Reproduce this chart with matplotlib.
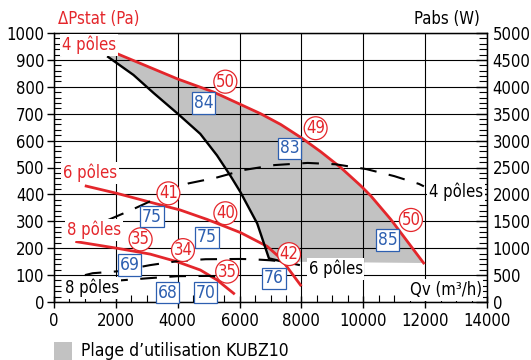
import matplotlib
matplotlib.use("Agg")
import matplotlib.pyplot as plt
import matplotlib.font_manager as fm
from matplotlib.ticker import MultipleLocator
from matplotlib.patches import Rectangle

# pick a narrow sans face if one is installed
narrow = None
for f in fm.fontManager.ttflist:
    fn = f.fname.lower()
    if ('condensed' in fn or 'narrow' in fn) and 'bold' not in fn and 'italic' not in fn \
            and 'oblique' not in fn and 'light' not in fn and 'semi' not in fn and 'extra' not in fn \
            and 'medium' not in fn and 'black' not in fn and 'thin' not in fn:
        narrow = f
        break

if narrow is not None:
    plt.rcParams['font.family'] = [narrow.name, 'DejaVu Sans']
    plt.rcParams['font.stretch'] = narrow.stretch
    fs = 12
else:
    plt.rcParams['font.family'] = ['DejaVu Sans']
    fs = 10

red = "#e4262b"
blue = "#2d5fb0"
gray = "#c2c2c2"

# static pressure curves (Pa) per motor speed
qv_4p = [1850, 2000, 4000, 5150, 6680, 7330, 8030, 8620, 9270, 9920, 10240, 10890, 11950]
dp_4p = [933, 925, 829, 781, 700, 660, 608, 559, 500, 432, 395, 307, 145]
qv_6p = [1040, 2030, 3440, 4080, 4950, 6030, 6890, 7330, 7970]
dp_6p = [431, 404, 361, 342, 307, 258, 207, 162, 63]
qv_8p = [735, 2030, 3110, 3975, 4730, 5270, 5810]
dp_8p = [224, 200, 178, 150, 119, 82, 32]

# left limit of the operating range
qv_lim = [1750, 2570, 3220, 4000, 4730, 5270, 5700, 6030, 6570, 6950, 7400]
dp_lim = [911, 844, 777, 700, 625, 545, 470, 408, 292, 162, 150]

# absorbed power (W)
qv_w4 = [1750, 2500, 3500, 4350, 5240, 6150, 7130, 8200, 9100, 10100, 11000, 11800, 11960]
pw_4 = [1525, 1710, 1975, 2205, 2310, 2455, 2545, 2585, 2560, 2470, 2340, 2195, 2150]
qv_w6 = [1000, 1250, 2050, 3100, 4000, 4900, 6000, 6400, 7000, 7400, 7950]
pw_6 = [500, 535, 570, 685, 760, 795, 800, 795, 775, 750, 685]
qv_w8 = [1850, 2000, 3000, 4000, 5000, 5300]
pw_8 = [385, 395, 440, 480, 485, 470]

# efficiency (circles) and sound level (boxes)
circ_txt = ["50", "49", "41", "40", "35", "34", "35", "42", "50"]
circ_x = [5540, 8460, 3700, 5540, 2800, 4170, 5600, 7600, 11540]
circ_y = [819, 646, 404, 330, 233, 193, 113, 178, 305]
box_txt = ["84", "83", "75", "75", "69", "68", "70", "76", "85"]
box_x = [4830, 7620, 3166, 4950, 2440, 3680, 4890, 7110, 10790]
box_y = [740, 571, 317, 240, 137, 35, 35, 88, 230]

fig = plt.figure(figsize=(5.31, 3.6), dpi=100)
ax = fig.add_axes([54/531, 1-302/360, 433/531, 269/360])
ax.set_xlim(0, 14000)
ax.set_ylim(0, 1000)

# operating range
ax.fill(qv_4p + qv_lim[::-1], dp_4p + dp_lim[::-1], color=gray, lw=0, zorder=1)

ax.plot(qv_4p, dp_4p, color=red, lw=2, zorder=3)
ax.plot(qv_6p, dp_6p, color=red, lw=2, zorder=3)
ax.plot(qv_8p, dp_8p, color=red, lw=2, zorder=3)
ax.plot(qv_lim, dp_lim, color="black", lw=1.7, zorder=3)

ax.xaxis.set_major_locator(MultipleLocator(2000))
ax.xaxis.set_minor_locator(MultipleLocator(500))
ax.yaxis.set_major_locator(MultipleLocator(100))
ax.yaxis.set_minor_locator(MultipleLocator(20))
ax.grid(which='major', color='black', lw=0.8, zorder=2)
ax.set_axisbelow(False)
ax.tick_params(axis='y', which='major', direction='out', length=5, width=1, labelsize=fs, pad=2)
ax.tick_params(axis='y', which='minor', direction='in', length=5, width=0.8)
ax.tick_params(axis='x', which='major', direction='inout', length=8, width=1, labelsize=fs, pad=3)
ax.tick_params(axis='x', which='minor', direction='in', length=5, width=0.8)
for s in ax.spines.values():
    s.set_linewidth(1)

ax2 = ax.twinx()
ax2.set_ylim(0, 5000)
ax2.yaxis.set_major_locator(MultipleLocator(500))
ax2.yaxis.set_minor_locator(MultipleLocator(100))
ax2.tick_params(axis='y', which='major', direction='in', length=8, width=1, labelsize=fs, pad=4)
ax2.tick_params(axis='y', which='minor', direction='in', length=6, width=0.8)

dash = (0, (8, 6))
ax2.plot(qv_w4, pw_4, color='black', lw=1.5, linestyle=dash, zorder=3)
ax2.plot(qv_w6, pw_6, color='black', lw=1.5, linestyle=dash, zorder=3)
ax2.plot(qv_w8, pw_8, color='black', lw=1.5, linestyle=dash, zorder=3)

tr = ax.transData
for t, x, y in zip(circ_txt, circ_x, circ_y):
    ax2.text(x, y, t, transform=tr, color=red, fontsize=fs, ha='center', va='center', zorder=5,
             bbox=dict(boxstyle='circle,pad=0.12', fc='white', ec=red, lw=0.9))
for t, x, y in zip(box_txt, box_x, box_y):
    ax2.text(x, y, t, transform=tr, color=blue, fontsize=fs + 0.5, ha='center', va='center', zorder=5,
             bbox=dict(boxstyle='square,pad=0.1', fc='white', ec=blue, lw=0.9))

wbox = dict(boxstyle='square,pad=0.1', fc='white', ec='none')
ax2.text(260, 955, "4 pôles", transform=tr, color=red, fontsize=fs, va='center', bbox=wbox, zorder=4)
ax2.text(290, 480, "6 pôles", transform=tr, color=red, fontsize=fs, va='center', bbox=wbox, zorder=4)
ax2.text(420, 268, "8 pôles", transform=tr, color=red, fontsize=fs, va='center', bbox=wbox, zorder=4)
ax2.text(357, 52, "8 pôles", transform=tr, color='black', fontsize=fs, va='center', bbox=wbox, zorder=4)
ax2.text(8230, 123, "6 pôles", transform=tr, color='black', fontsize=fs, va='center', bbox=wbox, zorder=4)
ax2.text(12120, 409, "4 pôles", transform=tr, color='black', fontsize=fs, va='center', bbox=wbox, zorder=4)

ax.text(0.009, 1.052, "ΔPstat (Pa)", transform=ax.transAxes, color=red, fontsize=fs, ha='left', va='center')
ax.text(0.984, 1.052, "Pabs (W)", transform=ax.transAxes, color='black', fontsize=fs, ha='right', va='center')
ax2.text(0.988, 0.045, "Qv (m³/h)", transform=ax.transAxes, color='black', fontsize=fs, ha='right',
         va='center', bbox=wbox, zorder=4)

# legend
fig.add_artist(Rectangle((54/531, 0), 18/531, 18/360, transform=fig.transFigure, color=gray, lw=0))
fig.text(81/531, 9/360, "Plage d’utilisation KUBZ10", fontsize=fs + 0.5, va='center', ha='left')

fig.savefig("out.png", dpi=100)
